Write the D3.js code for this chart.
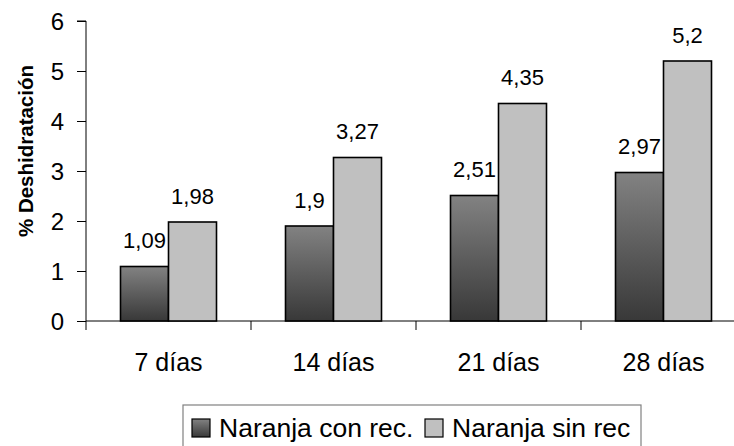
<!DOCTYPE html>
<html><head><meta charset="utf-8">
<script src="https://cdn.jsdelivr.net/npm/d3@7"></script>
<style>body{margin:0;background:#fff}svg{display:block}text{font-family:"Liberation Sans",Arial,sans-serif;fill:#000}</style>
</head><body><svg id="c" width="734" height="446"></svg>
<script>
const categories = ["7 días","14 días","21 días","28 días"];
const seriesNames = ["Naranja con rec.","Naranja sin rec"];
const conRec = [1.09,1.9,2.51,2.97];
const sinRec = [1.98,3.27,4.35,5.2];
const valueLabels = [["1,09","1,9","2,51","2,97"],["1,98","3,27","4,35","5,2"]];
const yTicks = [0,1,2,3,4,5,6];
const yTitle = "% Deshidratación";

const svg = d3.select("#c");
const defs = svg.append("defs");
const g1 = defs.append("linearGradient").attr("id","dark").attr("x1",0).attr("y1",0).attr("x2",0).attr("y2",1);
g1.append("stop").attr("offset","0%").attr("stop-color","#828282");
g1.append("stop").attr("offset","100%").attr("stop-color","#383838");

const pLeft=86, pTop=21, pBottom=321, bandW=165;
const x0 = d3.scaleBand().domain(categories).range([pLeft,pLeft+bandW*4]).padding(0);
const x1 = d3.scaleBand().domain([0,1]).range([0,x0.bandwidth()]).paddingInner(0).paddingOuter(0.71875);
const y = d3.scaleLinear().domain([0,6]).range([pBottom,pTop]);

const fills = ["url(#dark)","#c0c0c0"];
const data = [conRec,sinRec];

// axes
const yAxis = svg.append("g").attr("transform",`translate(${pLeft},0)`)
  .call(d3.axisLeft(y).tickValues(yTicks).tickSize(9).tickPadding(13).tickFormat(d3.format("d")));
yAxis.select(".domain").attr("stroke","#000").attr("d",`M-9,${pTop}H0V${pBottom}`);
yAxis.selectAll(".tick line").attr("stroke","#000");
yAxis.selectAll("text").style("font-size","24px").attr("dy","0.36em");

const xAxisG = svg.append("g").attr("transform",`translate(0,${pBottom})`);
xAxisG.append("line").attr("x1",pLeft).attr("x2",734).attr("y1",0).attr("y2",0).attr("stroke","#000");
const boundaries = categories.map(c=>x0(c)).concat([x0(categories[3])+bandW]);
xAxisG.selectAll("line.t").data(boundaries).join("line").attr("class","t")
  .attr("x1",d=>d).attr("x2",d=>d).attr("y1",0).attr("y2",9).attr("stroke","#000");
xAxisG.selectAll("text").data(categories).join("text")
  .attr("x",d=>x0(d)+x0.bandwidth()/2).attr("y",50).attr("text-anchor","middle")
  .style("font-size","25px").text(d=>d);

// bars
data.forEach((vals,si)=>{
  svg.append("g").selectAll("rect").data(vals).join("rect")
    .attr("x",(d,i)=>x0(categories[i])+x1(si))
    .attr("y",d=>y(d)).attr("width",x1.bandwidth()).attr("height",d=>pBottom-y(d))
    .attr("fill",fills[si]).attr("stroke","#000").attr("stroke-width",1.6);
  svg.append("g").selectAll("text").data(vals).join("text")
    .attr("x",(d,i)=>x0(categories[i])+x1(si)+x1.bandwidth()/2)
    .attr("y",d=>y(d)-18.5).attr("text-anchor","middle")
    .style("font-size","22px").text((d,i)=>valueLabels[si][i]);
});

// y title
svg.append("text").attr("transform",`translate(33,${(pTop+pBottom)/2-20}) rotate(-90)`)
  .attr("text-anchor","middle").style("font-size","20.5px").style("font-weight","bold").text(yTitle);

// legend
const lg = svg.append("g");
lg.append("rect").attr("x",183).attr("y",405).attr("width",458).attr("height",60)
  .attr("fill","#fff").attr("stroke","#808080").attr("stroke-width",1.2);
const lx = [192, 425];
seriesNames.forEach((s,i)=>{
  lg.append("rect").attr("x",lx[i]).attr("y",419).attr("width",18).attr("height",18)
    .attr("fill",fills[i]).attr("stroke","#000").attr("stroke-width",1.2);
  lg.append("text").attr("x",lx[i]+27).attr("y",437).style("font-size","26.5px").text(s);
});
</script></body></html>
